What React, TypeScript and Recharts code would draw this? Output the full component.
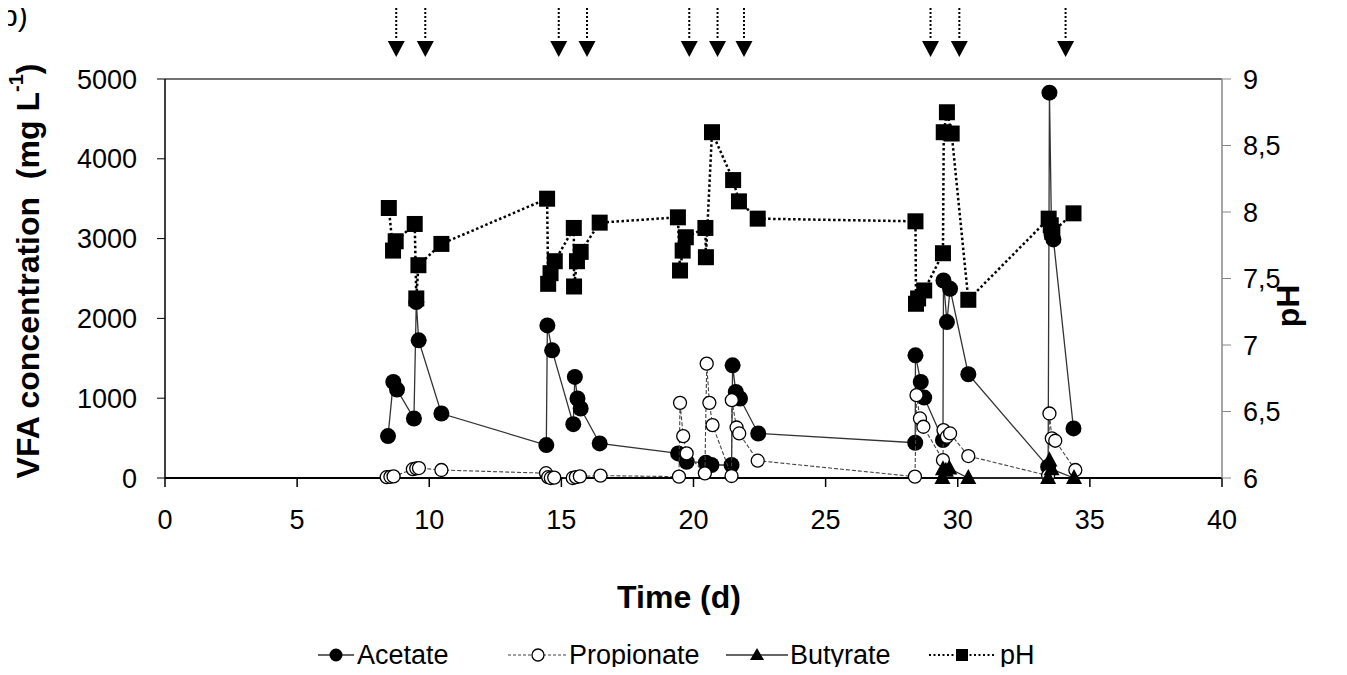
import { ComposedChart, Scatter, XAxis, YAxis, ReferenceLine, ReferenceDot } from 'recharts';

// time (d) and values
const acetateTime = [8.44, 8.64, 8.78, 9.42, 9.51, 9.6, 10.46, 14.43, 14.47, 14.65, 15.45, 15.51, 15.61, 15.73, 16.45, 19.42, 19.74, 20.47, 20.68, 21.44, 21.48, 21.6, 21.76, 22.45, 28.39, 28.4, 28.6, 28.73, 29.44, 29.46, 29.59, 29.71, 30.4, 33.42, 33.47, 33.55, 33.62, 34.38];
const acetateValue = [525, 1204, 1108, 746, 2204, 1725, 808, 412, 1912, 1600, 675, 1267, 996, 871, 433, 308, 204, 192, 163, 163, 1412, 1079, 996, 558, 442, 1537, 1204, 1008, 475, 2475, 1954, 2371, 1300, 140, 4829, 3050, 2990, 621];

const propionateTime = [8.39, 8.53, 8.65, 9.38, 9.51, 9.61, 10.46, 14.42, 14.5, 14.6, 14.73, 15.43, 15.55, 15.7, 16.48, 19.45, 19.49, 19.61, 19.74, 20.43, 20.5, 20.6, 20.72, 21.44, 21.45, 21.63, 21.73, 22.43, 28.38, 28.44, 28.57, 28.7, 29.44, 29.46, 29.59, 29.71, 30.4, 33.42, 33.47, 33.56, 33.69, 34.45];
const propionateValue = [10, 15, 20, 110, 120, 125, 100, 60, 10, 0, 5, 0, 10, 20, 30, 17, 942, 525, 308, 58, 1433, 942, 663, 25, 975, 633, 558, 217, 17, 1038, 746, 642, 225, 600, 517, 558, 275, 30, 808, 496, 467, 100];

const butyrateTime = [29.42, 29.44, 29.55, 29.68, 30.4, 33.42, 33.47, 33.55, 34.4];
const butyrateValue = [0, 110, 90, 120, 0, 0, 220, 110, 0];

const phTime = [8.47, 8.63, 8.73, 9.45, 9.51, 9.59, 10.46, 14.46, 14.5, 14.59, 14.75, 15.47, 15.48, 15.59, 15.73, 16.45, 19.41, 19.49, 19.59, 19.71, 20.45, 20.47, 20.7, 21.5, 21.72, 22.43, 28.4, 28.42, 28.5, 28.73, 29.44, 29.47, 29.59, 29.77, 30.4, 33.44, 33.52, 33.58, 34.38];
const phValue = [8.03, 7.71, 7.78, 7.91, 7.35, 7.6, 7.76, 8.1, 7.46, 7.54, 7.63, 7.88, 7.44, 7.63, 7.7, 7.92, 7.96, 7.56, 7.71, 7.81, 7.88, 7.66, 8.6, 8.24, 8.08, 7.95, 7.93, 7.31, 7.35, 7.41, 7.69, 8.6, 8.75, 8.59, 7.34, 7.95, 7.9, 7.85, 7.99];

// days marked with arrows above the plot
const arrowDays = [8.75, 9.85, 14.9, 15.97, 19.84, 20.91, 21.91, 28.97, 30.06, 34.08];

const xTicks = [0, 5, 10, 15, 20, 25, 30, 35, 40];
const vfaTicks = [0, 1000, 2000, 3000, 4000, 5000];
const phTicks = [6, 6.5, 7, 7.5, 8, 8.5, 9];

const ARROW_TIP = 5275;
const FONT = '"Liberation Sans", Arial, sans-serif';

const zip = (t: number[], v: number[]) => t.map((x, i) => ({ t: x, v: v[i] }));
const acetate = zip(acetateTime, acetateValue);
const propionate = zip(propionateTime, propionateValue);
const butyrate = zip(butyrateTime, butyrateValue);
const ph = zip(phTime, phValue);

const filledDot = (p: any) => <circle cx={p.cx} cy={p.cy} r={8} fill="#000" />;
const openDot = (p: any) => <circle cx={p.cx} cy={p.cy} r={6.5} fill="#fff" stroke="#000" strokeWidth={1.3} />;
const triangle = (p: any) => (
  <path d={`M${p.cx},${p.cy - 9} L${p.cx + 8},${p.cy + 6} L${p.cx - 8},${p.cy + 6} Z`} fill="#000" />
);
const square = (p: any) => <rect x={p.cx - 8} y={p.cy - 8} width={16} height={16} fill="#000" />;

const arrow = (p: any) => (
  <g>
    <line x1={p.cx} y1={p.cy - 49} x2={p.cx} y2={p.cy - 17} stroke="#000" strokeWidth={2} strokeDasharray="2 2" />
    <path d={`M${p.cx - 8.5},${p.cy - 16} L${p.cx + 8.5},${p.cy - 16} L${p.cx},${p.cy} Z`} fill="#000" />
  </g>
);

const tickFont = { fontSize: 27, fill: '#000', fontFamily: FONT };

export default function App() {
  return (
    <div style={{ position: 'relative', width: 1331, height: 659 }}>
      <ComposedChart width={1331} height={659} margin={{ top: 71, right: 57, bottom: 149, left: 67 }}>
        <XAxis
          type="number"
          dataKey="t"
          domain={[0, 40]}
          ticks={xTicks}
          interval={0}
          tick={tickFont}
          tickSize={9}
          tickMargin={23}
          height={40}
          axisLine={{ stroke: '#000', strokeWidth: 2 }}
          tickLine={{ stroke: '#000', strokeWidth: 1.5 }}
        />
        <YAxis
          yAxisId="vfa"
          type="number"
          dataKey="v"
          domain={[0, 5000]}
          ticks={vfaTicks}
          interval={0}
          width={90}
          tick={tickFont}
          tickSize={8}
          tickMargin={20}
          axisLine={{ stroke: '#000', strokeWidth: 1.5 }}
          tickLine={{ stroke: '#000' }}
        />
        <YAxis
          yAxisId="ph"
          orientation="right"
          type="number"
          dataKey="v"
          domain={[6, 9]}
          ticks={phTicks}
          interval={0}
          width={60}
          tick={{ ...tickFont, textAnchor: 'start' }}
          tickFormatter={(v: number) => String(v).replace('.', ',')}
          tickSize={9}
          tickMargin={12}
          axisLine={{ stroke: '#888', strokeWidth: 1.5 }}
          tickLine={{ stroke: '#888' }}
        />
        <ReferenceLine yAxisId="vfa" y={5000} stroke="#444" strokeWidth={1.5} />
        <Scatter
          name="Acetate"
          yAxisId="vfa"
          data={acetate}
          line={{ stroke: '#333', strokeWidth: 1.3 }}
          shape={filledDot}
          isAnimationActive={false}
        />
        <Scatter
          name="Propionate"
          yAxisId="vfa"
          data={propionate}
          line={{ stroke: '#444', strokeWidth: 1.1, strokeDasharray: '4 2' }}
          shape={openDot}
          isAnimationActive={false}
        />
        <Scatter
          name="Butyrate"
          yAxisId="vfa"
          data={butyrate}
          line={{ stroke: '#333', strokeWidth: 1.3 }}
          shape={triangle}
          isAnimationActive={false}
        />
        <Scatter
          name="pH"
          yAxisId="ph"
          data={ph}
          line={{ stroke: '#000', strokeWidth: 2.5, strokeDasharray: '2.5 2.5' }}
          shape={square}
          isAnimationActive={false}
        />
        {arrowDays.map((d) => (
          <ReferenceDot key={d} yAxisId="vfa" x={d} y={ARROW_TIP} ifOverflow="visible" shape={arrow} />
        ))}
      </ComposedChart>

      <svg
        width={1331}
        height={659}
        style={{ position: 'absolute', left: 0, top: 0, overflow: 'visible', pointerEvents: 'none', fontFamily: FONT }}
      >
        <text x={-7} y={18} fontSize={30}>b)</text>
        <text
          transform="translate(20,263) rotate(-90)"
          textAnchor="middle"
          dominantBaseline="central"
          fontSize={32}
          fontWeight="bold"
          style={{ whiteSpace: 'pre' }}
        >
          VFA concentration  (mg L<tspan dy={-12} fontSize={20}>-1</tspan><tspan dy={12}>)</tspan>
        </text>
        <text x={671} y={589} textAnchor="middle" dominantBaseline="central" fontSize={32} fontWeight="bold">
          Time (d)
        </text>
        <text transform="translate(1280,298) rotate(-90)" textAnchor="middle" dominantBaseline="central" fontSize={32} fontWeight="bold">
          pH
        </text>

        {/* legend */}
        <g fontSize={27}>
          <line x1={310} y1={647} x2={346} y2={647} stroke="#333" strokeWidth={1.3} />
          <circle cx={328} cy={647} r={6.5} fill="#000" />
          <text x={349} y={656}>Acetate</text>

          <line x1={500} y1={647} x2={559} y2={647} stroke="#444" strokeWidth={1.1} strokeDasharray="3 2" />
          <circle cx={530} cy={647} r={6} fill="#fff" stroke="#000" strokeWidth={1.3} />
          <text x={561} y={656}>Propionate</text>

          <line x1={718} y1={647} x2={780} y2={647} stroke="#333" strokeWidth={1.3} />
          <path d="M749,640 L756,652 L742,652 Z" fill="#000" />
          <text x={782} y={656}>Butyrate</text>

          <line x1={921} y1={647} x2={988} y2={647} stroke="#000" strokeWidth={2} strokeDasharray="2 2.5" />
          <rect x={948} y={641} width={12} height={12} fill="#000" />
          <text x={992} y={656}>pH</text>
        </g>
      </svg>
    </div>
  );
}
